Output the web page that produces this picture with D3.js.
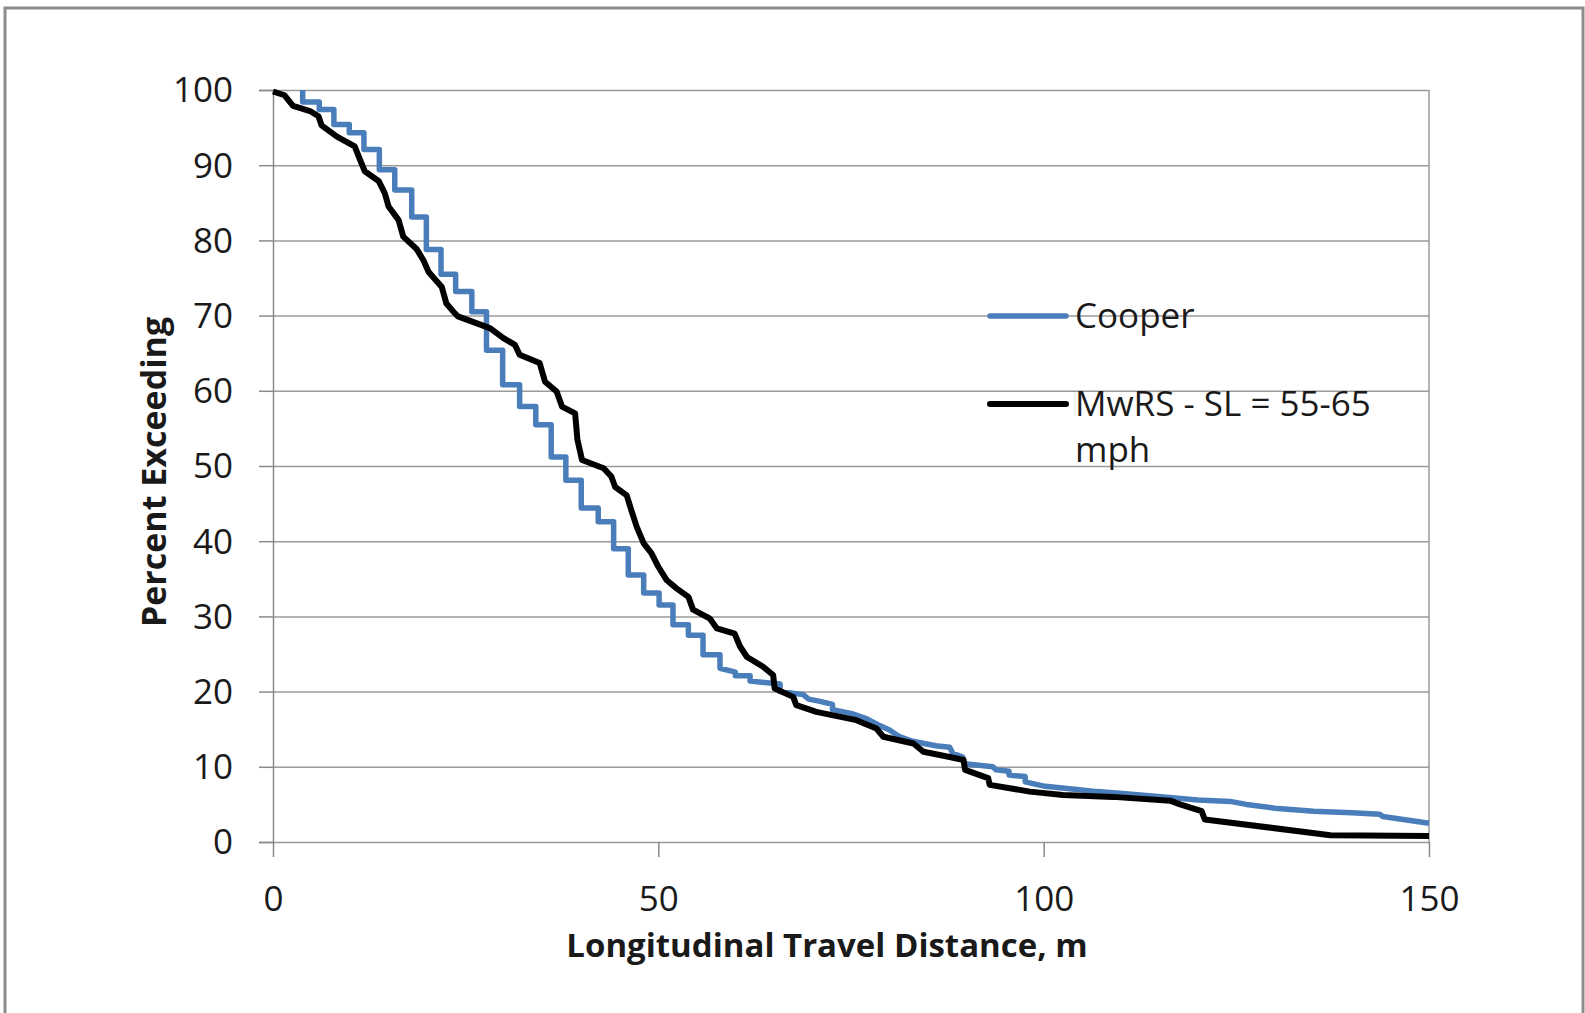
<!DOCTYPE html>
<html>
<head>
<meta charset="utf-8">
<script src="https://cdn.jsdelivr.net/npm/d3@7"></script>
<style>
  body { margin: 0; background: #fff; }
  text { font-family: "Open Sans", sans-serif; fill: #1a1a1a; }
</style>
</head>
<body>
<div id="chartDiv"></div>
<script>
// tick values
const xTicks = [0, 50, 100, 150];
const yTicks = [0, 10, 20, 30, 40, 50, 60, 70, 80, 90, 100];

// Cooper curve: [distance m, percent exceeding]
const cooper = [
  [3.85,100],[3.85,98.4],[6.0,98.4],[6.0,97.4],[7.9,97.4],[7.9,95.4],[9.9,95.4],[9.9,94.3],
  [11.8,94.3],[11.8,92.1],[13.8,92.1],[13.8,89.4],[15.8,89.4],[15.8,86.7],[18.0,86.7],[18.0,83.1],
  [19.9,83.1],[19.9,78.8],[21.8,78.8],[21.8,75.5],[23.7,75.5],[23.7,73.2],[25.8,73.2],[25.8,70.5],
  [27.7,70.5],[27.7,65.4],[29.8,65.4],[29.8,60.8],[32.0,60.8],[32.0,57.9],[34.1,57.9],[34.1,55.5],
  [36.1,55.5],[36.1,51.2],[38.0,51.2],[38.0,48.1],[40.0,48.1],[40.0,44.4],[42.2,44.4],[42.2,42.6],
  [44.2,42.6],[44.2,39.0],[46.1,39.0],[46.1,35.5],[48.1,35.5],[48.1,33.1],[50.1,33.1],[50.1,31.5],
  [51.9,31.5],[51.9,28.9],[53.9,28.9],[53.9,27.5],[55.8,27.5],[55.8,24.9],[58.0,24.9],[58.0,23.1],
  [60.0,22.6],[60.0,22.1],[61.9,22.1],[61.9,21.4],[65.8,21.0],[65.8,20.0],[68.8,19.6],[69.5,19.0],
  [71.0,18.7],[72.6,18.3],[72.6,17.6],[75.0,17.1],[77.0,16.4],[78.5,15.6],[80.0,14.9],[81.3,14.0],
  [83.0,13.4],[86.0,12.8],[87.8,12.6],[88.2,11.8],[89.5,11.3],[89.8,10.4],[93.4,10.0],[93.8,9.6],
  [95.5,9.4],[95.5,8.9],[97.6,8.7],[97.6,8.0],[100.2,7.4],[104,7.0],[107,6.7],[111,6.4],
  [115.6,6.0],[120,5.6],[124.2,5.4],[126.3,5.0],[130,4.5],[135,4.1],[140,3.9],[143.6,3.7],
  [144,3.4],[150,2.5]
];

// MwRS - SL = 55-65 mph curve
const mwrs = [
  [0,99.8],[1.5,99.3],[2.6,97.9],[4.8,97.2],[5.9,96.5],[6.3,95.3],[8.3,93.8],[10.6,92.5],
  [11.3,90.7],[11.9,89.2],[13.7,87.9],[14.5,86.3],[15.0,84.5],[16.3,82.7],[16.9,80.5],[18.6,78.9],
  [19.5,77.4],[20.2,75.8],[21.9,73.8],[22.5,71.6],[23.6,70.3],[24.0,69.9],[26.9,68.8],[28.2,68.3],
  [29.9,67.0],[31.4,66.1],[32.0,64.8],[34.6,63.7],[35.3,61.2],[36.8,59.9],[37.5,57.9],[39.2,57.0],
  [39.5,53.5],[40.1,50.8],[42.9,49.7],[43.9,48.6],[44.4,47.2],[45.9,46.1],[46.5,44.1],[47.2,41.9],
  [48.1,39.7],[49.1,38.4],[50.0,36.6],[51.1,34.8],[52.4,33.7],[53.9,32.6],[54.5,30.9],[56.7,29.7],
  [57.6,28.4],[59.9,27.7],[60.6,26.0],[61.5,24.6],[63.6,23.3],[64.9,22.2],[65.1,20.4],[67.5,19.3],
  [67.9,18.2],[70.5,17.3],[75.7,16.2],[78.3,15.1],[79.2,14.0],[83.1,13.1],[84.4,12.0],[87.8,11.3],
  [89.6,10.9],[89.8,9.6],[92.8,8.5],[93.0,7.6],[98.2,6.7],[102.5,6.25],[109,6.0],[116.4,5.5],
  [117.7,5.0],[120.5,4.1],[120.9,3.0],[137.2,0.9],[150,0.8]
];

const seriesNames = ["Cooper", "MwRS - SL = 55-65", "mph"];

const W = 1585, H = 1013;
const margin = { left: 273, right: 156, top: 90, bottom: 171 };
const innerW = W - margin.left - margin.right;
const innerH = H - margin.top - margin.bottom;

const svg = d3.select('#chartDiv').append('svg')
    .attr('width', W)
    .attr('height', H);

// outer frame
svg.append('rect')
    .attr('x', 5).attr('y', 8)
    .attr('width', 1578).attr('height', 1030)
    .attr('fill', 'none')
    .attr('stroke', '#8c8c8c')
    .attr('stroke-width', 3);

const g = svg.append('g').attr('transform', `translate(${margin.left},${margin.top})`);

const x = d3.scaleLinear().domain([0, 150]).range([0, innerW]);
const y = d3.scaleLinear().domain([0, 100]).range([innerH, 0]);

// horizontal gridlines
g.append('g')
    .attr('class', 'grid')
    .call(d3.axisLeft(y).tickValues(yTicks).tickSize(-innerW).tickFormat(''))
    .call(s => s.select('.domain').remove())
    .selectAll('line').attr('stroke', '#9a9a9a').attr('stroke-width', 1.5);

// right border of plot area
g.append('line')
    .attr('x1', innerW).attr('x2', innerW)
    .attr('y1', 0).attr('y2', innerH)
    .attr('stroke', '#9a9a9a').attr('stroke-width', 1.5);

// y axis
const yAxis = g.append('g')
    .call(d3.axisLeft(y).tickValues(yTicks).tickSize(14).tickPadding(26));
yAxis.selectAll('path, line').attr('stroke', '#8a8a8a').attr('stroke-width', 1.5);
yAxis.selectAll('text').style('font-size', '35px').attr('dy', '0.34em');

// x axis
const xAxis = g.append('g')
    .attr('transform', `translate(0,${innerH})`)
    .call(d3.axisBottom(x).tickValues(xTicks).tickSize(15).tickPadding(29));
xAxis.select('.domain').remove();
xAxis.selectAll('line').attr('stroke', '#8a8a8a').attr('stroke-width', 1.5);
xAxis.selectAll('text').style('font-size', '35px');

// lines
const line = d3.line().x(d => x(d[0])).y(d => y(d[1]));

g.append('path')
    .datum(cooper)
    .attr('d', line)
    .attr('fill', 'none')
    .attr('stroke', '#4a7ebb')
    .attr('stroke-width', 5.5)
    .attr('stroke-linejoin', 'round');

g.append('path')
    .datum(mwrs)
    .attr('d', line)
    .attr('fill', 'none')
    .attr('stroke', '#000')
    .attr('stroke-width', 6)
    .attr('stroke-linejoin', 'round');

// legend
const legend = svg.append('g');
legend.append('line')
    .attr('x1', 990).attr('x2', 1066).attr('y1', 316).attr('y2', 316)
    .attr('stroke', '#4a7ebb').attr('stroke-width', 5.5).attr('stroke-linecap', 'round');
legend.append('text')
    .attr('x', 1075).attr('y', 328)
    .style('font-size', '35px')
    .text(seriesNames[0]);
legend.append('line')
    .attr('x1', 990).attr('x2', 1066).attr('y1', 404).attr('y2', 404)
    .attr('stroke', '#000').attr('stroke-width', 6).attr('stroke-linecap', 'round');
legend.append('text')
    .attr('x', 1075).attr('y', 416)
    .style('font-size', '35px')
    .text(seriesNames[1]);
legend.append('text')
    .attr('x', 1075).attr('y', 462)
    .style('font-size', '35px')
    .text(seriesNames[2]);

// axis titles
svg.append('text')
    .attr('transform', `translate(166,${margin.top + innerH / 2 + 6}) rotate(-90)`)
    .attr('text-anchor', 'middle')
    .style('font-size', '34px')
    .style('font-weight', 'bold')
    .text('Percent Exceeding');

svg.append('text')
    .attr('x', 827).attr('y', 957)
    .attr('text-anchor', 'middle')
    .style('font-size', '33px')
    .style('font-weight', 'bold')
    .text('Longitudinal Travel Distance, m');
</script>
</body>
</html>
